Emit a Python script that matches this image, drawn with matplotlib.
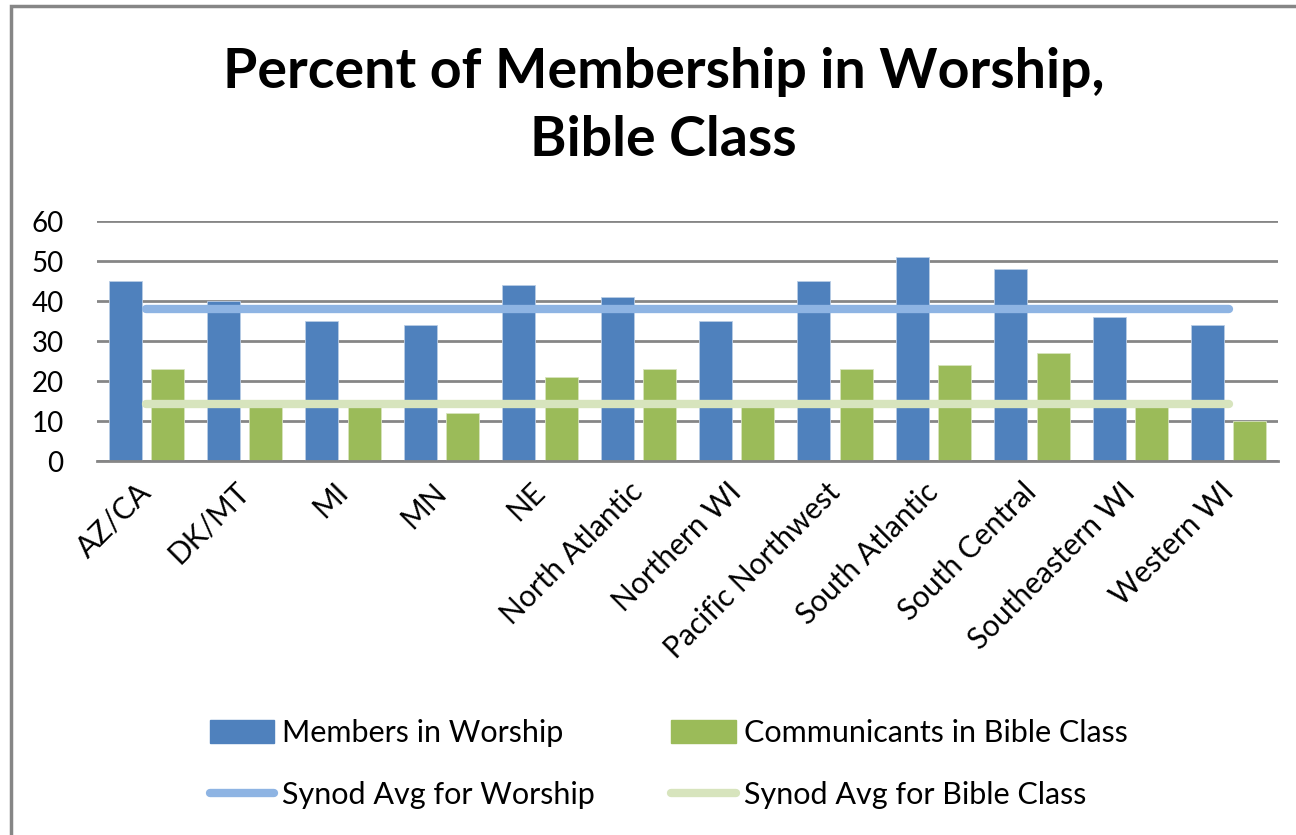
import matplotlib.pyplot as plt
import numpy as np
from matplotlib.patches import Patch
from matplotlib.lines import Line2D

regions = ["AZ/CA", "DK/MT", "MI", "MN", "NE", "North Atlantic", "Northern WI",
           "Pacific Northwest", "South Atlantic", "South Central", "Southeastern WI",
           "Western WI"]
worship = [45, 40, 35, 34, 44, 41, 35, 45, 51, 48, 36, 34]
bible_class = [23, 14, 14, 12, 21, 23, 14, 23, 24, 27, 14, 10]
synod_worship = 38
synod_bible = 14.2

blue = "#4F81BD"
green = "#9BBB59"
blue_line = "#8EB4E3"
green_line = "#D7E4BD"

plt.rcParams['font.family'] = ['Lato', 'DejaVu Sans']

fig = plt.figure(figsize=(12.96, 8.35), dpi=100)
ax = fig.add_axes([97 / 1296, 1 - 461 / 835, (1278 - 97) / 1296, 240 / 835])

x = np.arange(len(regions))
w = 0.335
ax.bar(x - 0.215, worship, w, color=blue, edgecolor="#B9CDE5", linewidth=0.6, zorder=2)
ax.bar(x + 0.215, bible_class, w, color=green, edgecolor="#D7E4BD", linewidth=0.6, zorder=2)
ax.plot(x, [synod_worship] * len(x), color=blue_line, lw=6, solid_capstyle="round", zorder=3)
ax.plot(x, [synod_bible] * len(x), color=green_line, lw=6, solid_capstyle="round", zorder=3)

ax.set_xlim(-0.5, len(regions) - 0.5)
ax.set_ylim(0, 60)
ax.set_yticks(range(0, 61, 10))
ax.yaxis.grid(True, color="#868686", lw=2, zorder=0)
ax.set_axisbelow(True)
for s in ["top", "right", "left"]:
    ax.spines[s].set_visible(False)
ax.spines["bottom"].set_color("#868686")
ax.spines["bottom"].set_linewidth(2)
ax.tick_params(axis="y", length=0, pad=24, labelsize=20)
ax.tick_params(axis="x", length=0, pad=19, labelsize=21.5)
ax.set_xticks(x)
ax.set_xticklabels(regions, rotation=45, ha="right", va="center", rotation_mode="anchor")

fig.text(0.512, 0.873, "Percent of Membership in Worship,\nBible Class", ha="center",
         va="center", fontsize=40, fontweight="bold", linespacing=1.42)

handles = [Patch(color=blue),
           Line2D([], [], color=blue_line, lw=6, solid_capstyle="round"),
           Patch(color=green),
           Line2D([], [], color=green_line, lw=6, solid_capstyle="round")]
labels = ["Members in Worship", "Synod Avg for Worship",
          "Communicants in Bible Class", "Synod Avg for Bible Class"]
fig.legend(handles, labels, ncol=2, loc="center", bbox_to_anchor=(0.516, 0.085),
           frameon=False, fontsize=22, handlelength=2.1, handleheight=0.75,
           handletextpad=0.26, columnspacing=2.5, labelspacing=1.1)

# chart border
fig.add_artist(plt.Rectangle((11 / 1296, -0.1), 1.2, 1.1 - 6 / 835,
                             transform=fig.transFigure, fill=False,
                             edgecolor="#868686", lw=2.5))

fig.savefig("out.png", dpi=100)
